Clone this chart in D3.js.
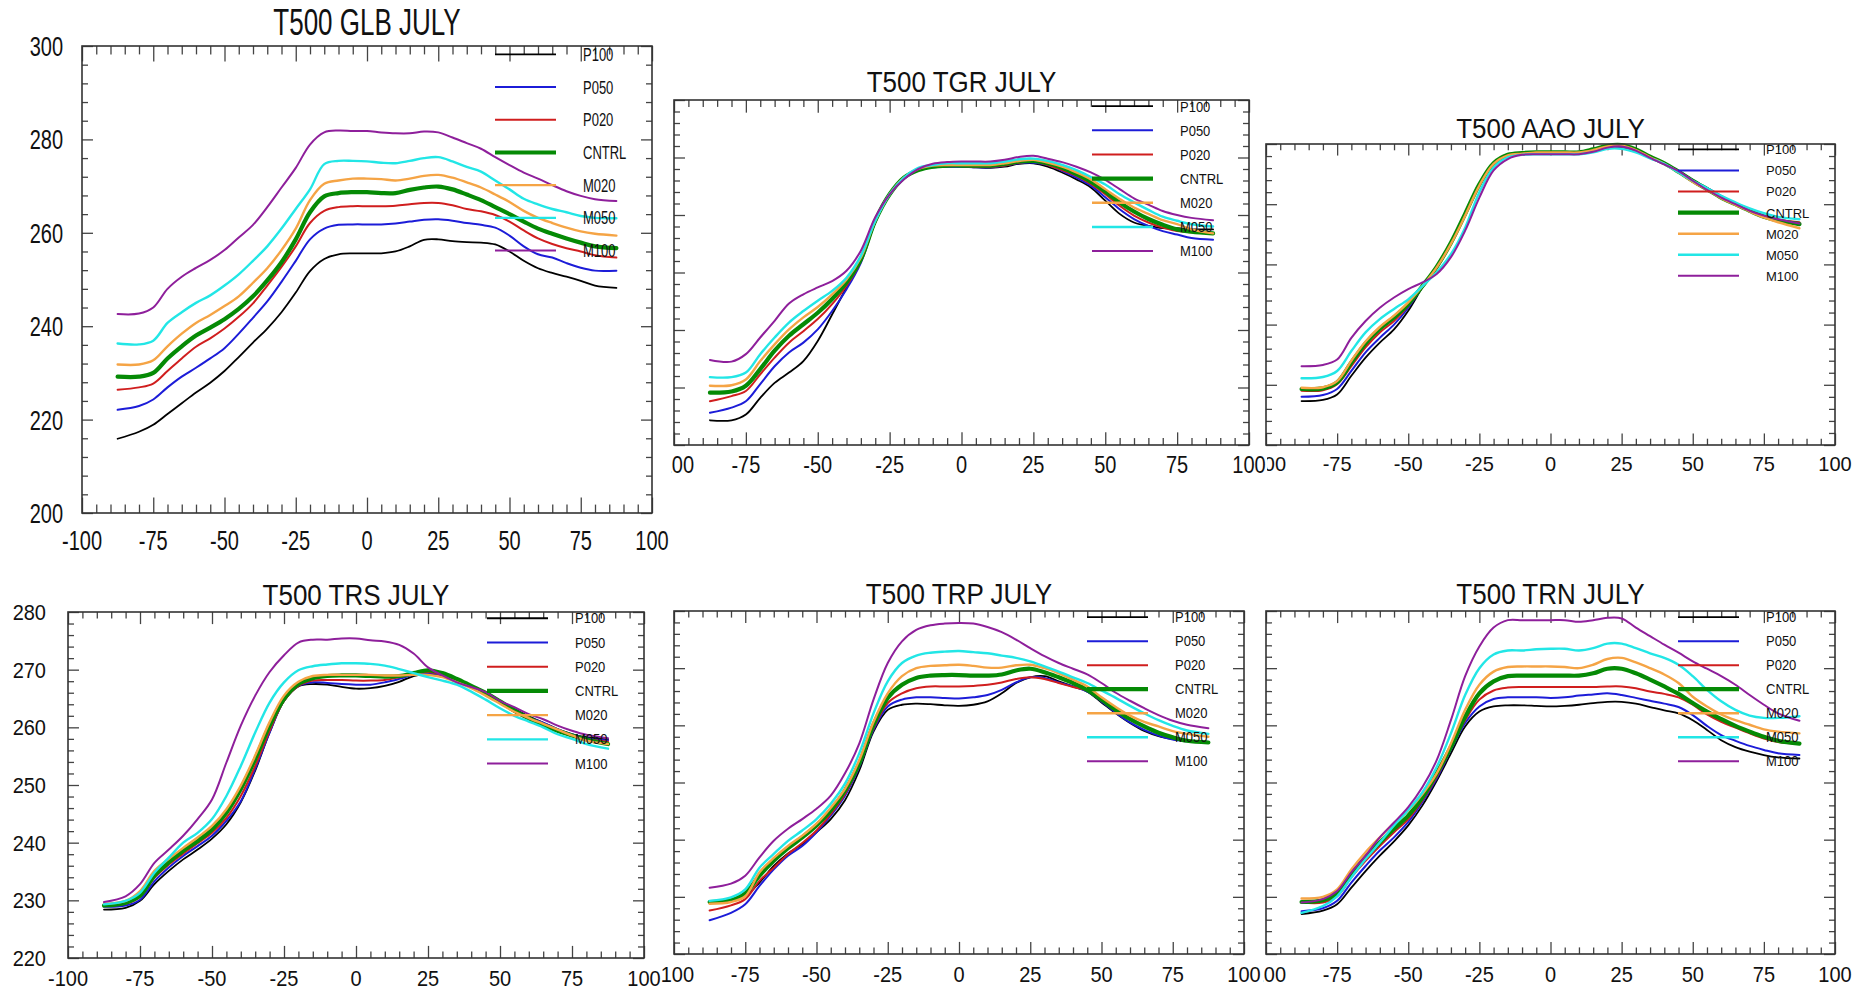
<!DOCTYPE html>
<html>
<head>
<meta charset="utf-8">
<script src="https://cdn.jsdelivr.net/npm/d3@7"></script>
<style>
  body { margin: 0; background: #fff; }
  text { font-family: "Liberation Sans", Arial, sans-serif; fill: #111; }
</style>
</head>
<body>
<script>
// latitude (x) grid
const lats = [-87.5,-80,-75,-70,-65,-60,-55,-50,-45,-40,-35,-30,-25,-20,-15,-10,-5,0,5,10,15,20,25,30,35,40,45,50,55,60,65,70,75,80,87.5];
const seriesNames = ["P100","P050","P020","CNTRL","M020","M050","M100"];
const xTickLabels = ["-100","-75","-50","-25","0","25","50","75","100"];

// values per panel, rows in seriesNames order
const glbValues = [
  [215.9,217.4,218.9,221.2,223.5,225.8,227.9,230.4,233.4,236.5,239.5,243.0,247.2,251.8,254.4,255.4,255.6,255.6,255.6,256.0,257.1,258.5,258.6,258.2,258.0,257.9,257.5,256.0,254.0,252.4,251.4,250.6,249.7,248.7,248.2],
  [222.1,222.9,224.3,226.9,229.2,231.1,233.1,235.3,238.4,241.8,245.3,249.5,254.0,258.6,260.9,261.7,261.8,261.8,261.8,262.0,262.4,262.8,262.9,262.6,262.1,261.7,261.1,259.4,257.1,255.4,254.7,253.5,252.5,251.9,251.9],
  [226.4,226.9,227.7,230.4,233.1,235.6,237.4,239.5,242.0,244.9,248.7,252.7,257.1,262.1,264.7,265.5,265.7,265.7,265.7,265.8,266.1,266.4,266.4,265.9,265.1,264.6,263.8,262.4,260.5,258.8,257.6,256.7,256.0,255.2,254.7],
  [229.2,229.2,230.0,233.1,235.7,238.0,239.7,241.5,243.7,246.4,249.8,253.7,258.6,264.4,267.8,268.5,268.7,268.7,268.5,268.5,269.2,269.7,269.9,269.3,268.2,267.0,265.5,264.0,262.4,260.9,259.8,258.8,257.9,257.1,256.7],
  [231.8,231.8,232.7,235.7,238.4,240.7,242.4,244.3,246.4,249.3,252.4,256.3,260.9,267.0,270.5,271.2,271.6,271.6,271.5,271.2,271.6,272.2,272.4,271.8,270.8,269.7,268.2,266.6,264.7,263.2,262.1,261.1,260.3,259.8,259.4],
  [236.3,236.1,236.9,240.7,243.0,245.0,246.6,248.7,251.1,254.0,257.1,260.9,265.1,269.3,274.7,275.4,275.4,275.3,275.0,274.9,275.4,276.0,276.2,275.3,274.1,273.1,271.2,269.3,267.3,266.1,265.1,264.4,263.6,263.2,263.1],
  [242.6,242.7,244.0,248.0,250.6,252.5,254.2,256.3,259.0,261.7,265.5,269.7,273.9,278.9,281.5,281.9,281.8,281.8,281.5,281.3,281.3,281.7,281.5,280.4,279.2,278.0,276.2,274.5,272.9,271.6,270.2,268.9,267.9,267.2,266.8]
];
const tgrValues = [
  [224.3,224.3,225.3,228.2,230.8,232.6,234.6,238.1,242.7,247.4,252.0,258.7,263.6,266.5,267.8,268.3,268.4,268.4,268.3,268.2,268.4,268.9,269.0,268.4,267.4,266.2,264.8,262.5,260.2,258.7,258.1,257.7,257.7,257.5,257.5],
  [225.6,226.5,227.6,230.6,233.7,236.1,237.8,240.1,243.3,247.1,251.7,258.7,263.6,266.4,267.8,268.3,268.4,268.4,268.3,268.3,268.6,269.0,269.1,268.7,267.7,266.5,265.1,263.1,261.0,259.3,258.1,257.2,256.6,256.0,255.7],
  [227.6,228.5,229.4,232.3,235.2,237.8,239.8,241.9,244.5,247.7,252.0,259.0,263.6,266.4,267.8,268.4,268.5,268.5,268.4,268.4,268.6,269.1,269.3,268.7,267.8,266.8,265.4,263.6,261.6,259.9,258.7,257.8,257.2,257.0,256.8],
  [229.1,229.3,230.3,233.2,236.4,239.0,241.0,243.0,245.4,248.3,252.3,259.0,263.6,266.5,267.8,268.4,268.6,268.6,268.6,268.6,268.9,269.3,269.4,269.0,268.2,267.1,265.8,264.1,262.2,260.6,259.3,258.3,257.5,257.1,256.8],
  [230.3,230.4,231.4,234.6,237.5,240.1,242.2,244.0,246.2,248.8,252.6,259.0,263.6,266.5,268.0,268.6,268.7,268.7,268.7,268.7,269.0,269.4,269.6,269.1,268.4,267.4,266.2,264.5,262.8,261.3,260.2,259.1,258.4,257.5,256.8],
  [231.8,231.8,232.6,235.8,238.7,241.3,243.3,245.1,246.8,249.1,252.9,259.0,263.6,266.5,268.2,268.7,269.0,269.0,269.0,269.0,269.3,269.7,269.8,269.4,268.7,267.8,266.6,265.3,263.6,262.2,260.9,259.7,259.0,258.4,258.0],
  [234.8,234.5,235.8,238.7,241.6,244.6,246.2,247.4,248.5,250.3,253.8,259.6,263.6,266.2,268.0,268.9,269.2,269.3,269.3,269.3,269.6,270.1,270.3,269.8,269.2,268.4,267.4,266.1,264.5,262.9,261.8,260.7,260.0,259.5,259.1]
];
const aaoValues = [
  [237.3,237.5,238.4,241.5,244.5,247.0,249.2,252.3,256.2,259.5,263.5,268.2,273.1,276.6,277.9,278.3,278.4,278.4,278.4,278.4,278.8,279.3,279.3,278.8,277.8,276.8,275.5,274.0,272.7,271.3,270.1,269.0,268.1,267.4,266.8],
  [238.0,238.3,239.3,242.3,245.4,247.8,250.0,252.8,256.3,259.6,263.5,268.2,273.1,276.6,277.9,278.3,278.4,278.4,278.4,278.4,278.8,279.3,279.3,278.8,277.8,276.8,275.5,274.0,272.7,271.4,270.1,269.0,268.1,267.4,266.6],
  [239.0,239.1,240.1,243.1,246.2,248.7,250.6,253.1,256.4,259.7,263.6,268.4,273.2,276.7,278.1,278.4,278.6,278.6,278.6,278.5,278.9,279.4,279.6,278.9,277.8,276.7,275.3,273.7,272.4,271.1,270.0,268.9,268.1,267.4,267.0],
  [239.3,239.4,240.4,243.7,246.9,249.3,251.2,253.4,256.4,259.6,263.6,268.4,273.3,276.8,278.2,278.5,278.6,278.6,278.6,278.6,279.1,279.7,279.8,279.1,277.9,276.8,275.4,273.9,272.5,271.1,270.0,268.9,267.9,267.3,266.7],
  [239.5,239.6,240.6,244.0,247.2,249.6,251.5,253.7,256.4,259.5,263.4,268.1,273.1,276.7,278.1,278.4,278.6,278.6,278.6,278.6,279.0,279.6,279.7,279.0,277.8,276.7,275.3,273.7,272.4,271.0,269.9,268.8,267.8,267.0,266.0],
  [241.1,241.3,242.3,245.6,248.7,250.9,252.6,254.2,256.4,258.7,261.7,266.1,272.0,276.1,277.8,278.2,278.3,278.3,278.3,278.3,278.6,279.2,279.2,278.6,277.6,276.7,275.3,273.9,272.7,271.4,270.3,269.3,268.5,267.9,267.5],
  [243.1,243.3,244.2,247.8,250.6,252.8,254.5,255.9,257.0,258.4,261.2,265.6,271.1,275.6,277.5,278.2,278.3,278.3,278.3,278.3,278.7,279.4,279.6,278.9,277.7,276.6,275.5,273.9,272.4,271.1,270.0,268.9,268.1,267.5,266.8]
];
const trsValues = [
  [228.4,228.7,229.9,232.8,235.1,237.1,238.8,240.7,243.2,247.0,252.5,259.1,264.6,267.1,267.5,267.4,267.0,266.7,266.8,267.2,267.9,268.9,269.3,269.0,268.1,267.1,266.0,264.6,263.2,261.9,260.8,259.7,258.8,258.3,257.9],
  [228.9,229.1,230.1,233.3,235.7,237.7,239.4,241.2,243.8,247.2,252.8,259.1,264.6,267.2,267.8,267.7,267.5,267.4,267.4,267.8,268.4,269.1,269.4,269.1,268.2,267.2,266.1,264.6,263.1,261.7,260.8,259.7,258.8,258.1,257.7],
  [229.1,229.4,230.6,233.9,236.2,238.1,239.9,241.7,244.3,248.1,253.3,259.4,264.6,267.2,268.1,268.2,268.2,268.1,268.1,268.2,268.7,269.3,269.6,269.1,268.1,267.0,265.6,264.2,262.7,261.4,260.4,259.4,258.6,258.0,257.5],
  [229.1,229.6,230.8,234.3,236.6,238.6,240.3,242.3,245.2,249.3,254.5,260.3,264.9,267.5,268.5,268.9,269.0,269.0,268.9,268.8,268.9,269.4,269.9,269.4,268.4,267.2,266.0,264.5,262.9,261.6,260.4,259.4,258.6,257.9,257.1],
  [229.4,229.9,231.6,235.1,237.2,239.1,240.9,242.9,245.8,249.9,255.1,260.9,265.5,267.9,268.9,269.1,269.1,269.1,269.1,269.0,269.0,269.1,269.1,268.7,267.8,266.8,265.5,264.1,262.7,261.6,260.6,259.6,258.6,257.7,257.1],
  [229.3,229.9,231.3,234.8,237.4,240.0,241.7,244.1,248.1,253.3,259.1,264.3,267.8,269.9,270.6,270.9,271.1,271.1,271.0,270.7,270.1,269.4,268.7,268.1,267.4,266.2,264.8,263.3,262.0,261.0,260.0,258.8,258.0,257.1,256.3],
  [229.7,230.7,232.8,236.5,238.8,241.2,244.1,247.5,253.9,260.3,265.5,269.6,272.5,274.7,275.2,275.2,275.4,275.4,275.1,274.9,274.3,272.8,270.4,269.0,267.8,267.0,266.1,264.6,263.5,262.3,261.4,260.3,259.4,258.7,258.1]
];
const trpValues = [
  [229.0,229.3,230.1,232.5,235.4,237.6,239.2,241.3,243.6,246.9,252.1,258.9,262.7,263.6,263.8,263.7,263.5,263.4,263.6,264.2,265.6,267.4,268.4,268.6,267.7,266.8,265.9,264.0,262.1,260.4,259.0,258.1,257.6,257.3,257.1],
  [225.9,227.2,228.7,231.9,234.8,237.2,238.9,241.3,244.2,247.7,252.7,259.2,263.3,264.5,264.9,264.9,264.8,264.7,264.9,265.3,266.2,267.5,268.4,268.3,267.5,266.8,265.9,264.2,262.2,260.5,259.2,258.2,257.5,257.2,257.0],
  [227.6,228.5,229.6,232.8,235.1,237.5,239.4,241.6,244.5,248.0,253.0,259.5,263.9,265.6,266.5,266.8,266.8,266.8,266.9,267.1,267.5,268.1,268.4,268.1,267.4,266.7,266.1,264.6,262.7,261.1,259.8,258.7,257.9,257.3,257.1],
  [229.1,229.4,230.6,233.7,236.3,238.5,240.4,242.5,245.1,248.6,253.3,260.1,264.8,267.1,268.3,268.7,268.8,268.8,268.7,268.7,268.9,269.6,269.9,269.3,268.4,267.4,266.2,264.5,262.7,261.1,259.8,258.7,257.9,257.3,257.0],
  [228.8,229.1,230.1,234.3,236.8,238.9,240.7,242.8,245.6,248.9,253.9,260.6,265.6,268.6,270.0,270.4,270.5,270.6,270.4,270.1,270.1,270.5,270.6,270.0,269.1,268.0,266.8,264.9,263.2,261.7,260.6,259.8,259.0,258.5,258.0],
  [229.3,229.9,231.3,235.1,237.5,239.8,241.6,243.6,246.3,249.8,255.1,262.1,267.7,270.9,272.2,272.7,272.9,273.0,272.8,272.6,272.2,271.8,271.2,270.3,269.4,268.4,267.4,266.1,264.8,263.4,262.1,260.9,259.9,259.1,258.5],
  [231.6,232.3,233.7,236.9,239.8,241.9,243.6,245.4,247.7,251.6,256.8,264.5,270.9,274.7,276.7,277.5,277.8,277.9,277.8,277.2,276.3,275.0,273.5,272.1,270.9,269.9,268.9,267.4,265.7,264.3,263.0,261.8,260.8,260.1,259.5]
];
const trnValues = [
  [227.0,227.6,228.7,231.6,234.5,237.2,239.7,242.5,246.0,250.3,255.1,259.8,262.4,263.3,263.5,263.5,263.4,263.3,263.4,263.6,263.9,264.1,264.1,263.8,263.2,262.6,262.1,260.9,259.2,257.4,256.2,255.4,254.8,254.4,254.2],
  [227.5,228.0,229.3,232.5,235.4,238.1,240.4,243.1,246.6,250.7,255.7,260.4,263.3,264.6,264.9,264.9,264.9,264.8,264.9,265.2,265.4,265.6,265.3,264.8,264.3,263.8,263.2,261.8,259.9,258.3,257.3,256.4,255.7,255.1,254.8],
  [229.0,229.0,230.1,233.4,236.3,238.9,241.3,243.6,246.9,251.0,256.0,260.9,264.5,266.1,266.6,266.7,266.7,266.7,266.7,266.7,266.7,266.8,266.8,266.5,265.9,265.5,264.9,263.6,261.9,260.6,259.6,258.6,257.7,257.1,256.8],
  [229.1,229.4,230.6,234.0,236.9,239.5,241.9,244.2,247.4,251.6,256.2,261.5,265.6,267.7,268.6,268.7,268.7,268.7,268.7,268.7,269.1,269.9,269.9,269.1,268.0,266.8,265.5,263.9,262.4,261.1,259.9,258.9,258.0,257.3,256.8],
  [229.7,230.0,231.3,234.8,237.8,240.4,242.9,245.1,248.0,251.6,256.8,262.7,267.1,269.4,270.2,270.3,270.3,270.3,270.2,270.0,270.6,271.6,271.8,271.0,270.0,268.9,267.4,265.0,263.3,261.9,260.9,260.1,259.3,258.9,258.6],
  [227.2,228.4,230.1,233.4,236.6,239.5,242.5,245.2,248.3,252.7,258.6,265.3,270.0,272.4,273.1,273.1,273.3,273.4,273.4,273.1,273.5,274.3,274.3,273.5,272.6,271.8,270.6,268.6,266.2,264.2,262.7,261.7,261.3,261.3,261.6],
  [229.0,229.6,231.0,234.3,237.2,240.4,243.0,245.7,249.2,253.9,260.9,268.6,273.8,277.1,278.4,278.4,278.4,278.4,278.4,278.1,278.4,278.8,278.7,277.1,275.6,274.1,272.7,271.2,269.9,268.6,267.1,265.3,263.6,262.1,260.8]
];

// line styles per series
const seriesColors = ["#000000","#1c1cd8","#d01e1e","#058a05","#f5a445","#22e6e6","#8e1f9b"];
const seriesWidths = [1.8, 2, 2, 4.2, 2.4, 2.4, 2];

// panel layout
const panels = [
  {title:"T500 GLB JULY", values:glbValues, x0:82, x1:652, y0:46, y1:513, yDomain:[200,300], yStep:20, yMinor:4, yLabels:true, sy:1.4, titleGap:11, xLabGap:27, yLabGap:19, clipLeft:0},
  {title:"T500 TGR JULY", values:tgrValues, x0:674, x1:1249, y0:100, y1:445, yDomain:[220,280], yStep:10, yMinor:2, yLabels:false, sy:1.15, titleGap:8, xLabGap:20, clipLeft:671},
  {title:"T500 AAO JULY", values:aaoValues, x0:1266, x1:1835, y0:144, y1:445, yDomain:[230,280], yStep:10, yMinor:2, yLabels:false, sy:1.05, titleGap:6, xLabGap:18, clipLeft:1267},
  {title:"T500 TRS JULY", values:trsValues, x0:68, x1:644, y0:612, y1:958, yDomain:[220,280], yStep:10, yMinor:2, yLabels:true, sy:1.1, titleGap:7, xLabGap:20, yLabGap:22, clipLeft:0},
  {title:"T500 TRP JULY", values:trpValues, x0:674, x1:1244, y0:611, y1:954, yDomain:[220,280], yStep:10, yMinor:2, yLabels:false, sy:1.1, titleGap:7, xLabGap:20, clipLeft:661},
  {title:"T500 TRN JULY", values:trnValues, x0:1266, x1:1835, y0:611, y1:954, yDomain:[220,280], yStep:10, yMinor:2, yLabels:false, sy:1.1, titleGap:7, xLabGap:20, clipLeft:1263}
];

let svg = d3.select("body").append("svg")
  .attr("width", 1870)
  .attr("height", 992)
  .style("background-color", "white");

const CAP = 0.716; // cap height of Liberation Sans

panels.forEach(function(p, pi){
  let g = svg.append("g");
  let h = p.y1 - p.y0;
  let xScale = d3.scaleLinear().domain([-100, 100]).range([p.x0, p.x1]);
  let yScale = d3.scaleLinear().domain(p.yDomain).range([p.y1, p.y0]);

  // tick values
  let xMajor = xTickLabels.map(Number);
  let xMinor = d3.range(-100, 101, 5).filter(v => v % 25 !== 0);
  let yMajor = d3.range(p.yDomain[0], p.yDomain[1] + 0.01, p.yStep);
  let yMinor = d3.range(p.yDomain[0], p.yDomain[1] + 0.01, p.yMinor).filter(v => Math.abs(v % p.yStep) > 0.01);

  let minH = 6, majH = 11;                 // ticks on left/right
  let minV = 6 * p.sy, majV = 11 * p.sy;   // ticks on top/bottom

  function tickGroup(axis, tx, ty){
    let a = g.append("g").attr("transform", "translate(" + tx + "," + ty + ")").call(axis);
    a.select(".domain").remove();
    a.selectAll("text").remove();
    a.selectAll("line").attr("stroke", "#444").attr("stroke-width", 1.3);
  }
  [[xMajor, majV], [xMinor, minV]].forEach(function(t){
    tickGroup(d3.axisBottom(xScale).tickValues(t[0]).tickSize(-t[1]).tickSizeOuter(0), 0, p.y1);
    tickGroup(d3.axisTop(xScale).tickValues(t[0]).tickSize(-t[1]).tickSizeOuter(0), 0, p.y0);
  });
  [[yMajor, majH], [yMinor, minH]].forEach(function(t){
    tickGroup(d3.axisLeft(yScale).tickValues(t[0]).tickSize(-t[1]).tickSizeOuter(0), p.x0, 0);
    tickGroup(d3.axisRight(yScale).tickValues(t[0]).tickSize(-t[1]).tickSizeOuter(0), p.x1, 0);
  });

  // curves
  let line = d3.line()
    .x((d, i) => xScale(lats[i]))
    .y(d => yScale(d))
    .curve(d3.curveCatmullRom.alpha(0.5));
  p.values.forEach(function(vals, si){
    g.append("path")
      .attr("d", line(vals))
      .attr("fill", "none")
      .attr("stroke", seriesColors[si])
      .attr("stroke-width", seriesWidths[si])
      .attr("stroke-linejoin", "round")
      .attr("stroke-linecap", "round");
  });

  // frame
  g.append("rect")
    .attr("x", p.x0).attr("y", p.y0)
    .attr("width", p.x1 - p.x0).attr("height", h)
    .attr("fill", "none").attr("stroke", "#333").attr("stroke-width", 1.6);

  // legend
  let legFont = 13;
  seriesNames.forEach(function(name, si){
    let ly = p.y0 + h * (0.018 + 0.07 * si);
    g.append("line")
      .attr("x1", p.x1 - 157).attr("x2", p.x1 - 96)
      .attr("y1", ly).attr("y2", ly)
      .attr("stroke", seriesColors[si])
      .attr("stroke-width", seriesWidths[si]);
    g.append("text")
      .attr("transform", "translate(" + (p.x1 - 69) + "," + (ly + CAP * legFont * p.sy / 2) + ") scale(1," + p.sy + ")")
      .attr("font-size", legFont)
      .text(name);
  });

  // title
  g.append("text")
    .attr("transform", "translate(" + ((p.x0 + p.x1) / 2) + "," + (p.y0 - p.titleGap) + ") scale(1," + p.sy + ")")
    .attr("text-anchor", "middle")
    .attr("font-size", 26)
    .text(p.title);

  // x tick labels (left one partly hidden under the neighbouring panel)
  let clipId = "clip" + pi;
  svg.append("clipPath").attr("id", clipId)
    .append("rect").attr("x", p.clipLeft).attr("y", 0).attr("width", 1870).attr("height", 992);
  let tickFont = 20;
  g.append("g").attr("clip-path", "url(#" + clipId + ")")
    .selectAll("text").data(xTickLabels).enter()
    .append("text")
    .attr("transform", d => "translate(" + xScale(+d) + "," + (p.y1 + p.xLabGap + CAP * tickFont * p.sy / 2) + ") scale(1," + p.sy + ")")
    .attr("text-anchor", "middle")
    .attr("font-size", tickFont)
    .text(d => d);

  if (p.yLabels){
    g.append("g").selectAll("text").data(yMajor).enter()
      .append("text")
      .attr("transform", d => "translate(" + (p.x0 - p.yLabGap) + "," + (yScale(d) + CAP * tickFont * p.sy / 2) + ") scale(1," + p.sy + ")")
      .attr("text-anchor", "end")
      .attr("font-size", tickFont)
      .text(d => d);
  }
});
</script>
</body>
</html>
